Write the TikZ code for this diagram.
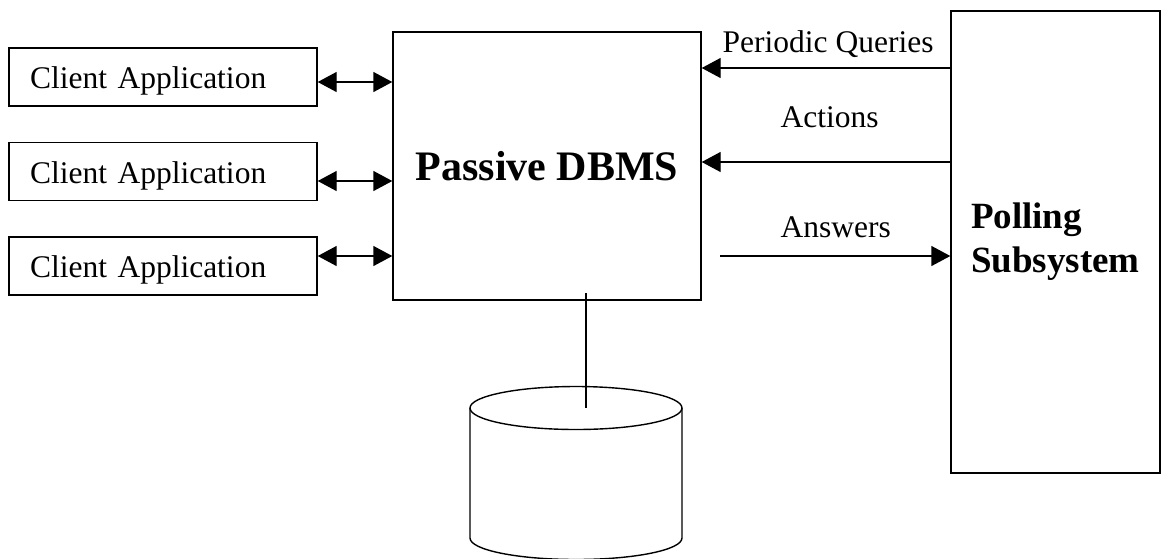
\documentclass[tikz,border=0pt]{standalone}
\usepackage{fontspec}
\setmainfont{Liberation Serif}
\usetikzlibrary{arrows.meta}
\begin{document}
\begin{tikzpicture}[x=1pt,y=-1pt,line width=1.4pt,
  box/.style={draw,rectangle,inner sep=0pt},
  client/.style={box,minimum width=308pt,minimum height=58pt,
    text width=266pt,inner xsep=21pt,align=left,
    text height=23pt,text depth=0pt,font=\fontsize{31.5}{36}\selectfont},
  lbl/.style={inner sep=0pt,anchor=base west,font=\fontsize{31.5}{36}\selectfont},
  tip/.style={-{Triangle[length=19pt,width=20pt]}},
  dbl/.style={{Triangle[length=19pt,width=20pt]}-{Triangle[length=19pt,width=20pt]}}]
\useasboundingbox (0,0) rectangle (1161,558);

% client applications
\node[client] (c1) at (163,77) {Client Application};
\node[client] (c2) at (163,171.5) {Client Application};
\node[client] (c3) at (163,266) {Client Application};

% database server
\node[box,minimum width=308pt,minimum height=268pt,text height=29pt,text depth=0pt,
  font=\fontsize{42}{48}\selectfont\bfseries] (dbms) at (547,166) {Passive DBMS};

% polling subsystem
\node[box,minimum width=209pt,minimum height=462pt,text width=169pt,inner xsep=20pt,
  align=left,font=\fontsize{37}{44}\selectfont\bfseries] (poll) at (1055.5,242)
  {Polling\\Subsystem};

% client <-> DBMS
\draw[dbl] (c1.east |- 0,82) -- (dbms.west |- 0,82);
\draw[dbl] (c2.east |- 0,181) -- (dbms.west |- 0,181);
\draw[dbl] (c3.east |- 0,256) -- (dbms.west |- 0,256);

% polling <-> DBMS
\draw[tip] (poll.west |- 0,68) -- (dbms.east |- 0,68);
\draw[tip] (poll.west |- 0,162) -- (dbms.east |- 0,162);
\coordinate (ansstart) at (720,256);
\draw[tip] (ansstart) -- (poll.west |- ansstart);

\node[lbl] (lpq) at (722,52) {Periodic Queries};
\node[lbl] (lact) at (780,127) {Actions};
\node[lbl] (lans) at (780,237) {Answers};

% database storage
\coordinate (dbtop) at (586,408);
\coordinate (linktop) at (586,293);
\draw (linktop) -- (dbtop);
\draw (470,408) -- (470,538) arc[start angle=180,end angle=360,x radius=106pt,y radius=21.5pt] -- (682,408);
\draw (576,408) ellipse[x radius=106pt,y radius=21.5pt];
\end{tikzpicture}
\end{document}
